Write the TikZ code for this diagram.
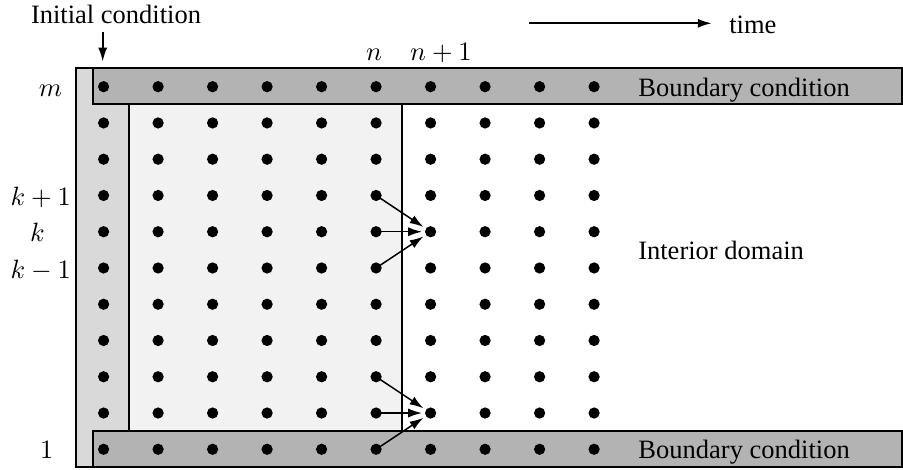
\RequirePackage{fix-cm}
\documentclass[tikz,border=0pt]{standalone}
\usepackage[no-math]{fontspec}
\setmainfont{Liberation Serif}
\usetikzlibrary{arrows.meta}
\definecolor{bandgray}{HTML}{B3B3B3}
\definecolor{stripgray}{HTML}{D9D9D9}
\definecolor{lightgray2}{HTML}{F2F2F2}
\tikzset{
  dot/.style={circle, fill=black, inner sep=0pt, outer sep=0pt, minimum size=4.5pt},
  lbl/.style={inner sep=0pt, outer sep=0pt, font=\fontsize{10.6}{12}\selectfont},
  box/.style={draw=black, line width=0.8pt},
  arr/.style={line width=0.6pt, -{Latex[length=5.5pt,width=3.6pt]}, shorten >=1.2pt},
  bigarr/.style={line width=0.7pt, -{Latex[length=5.5pt,width=3.6pt]}}
}
\begin{document}
\begin{tikzpicture}[x=0.4pt,y=-0.4pt]
\useasboundingbox (0,0) rectangle (903,470);
% regions
\fill[fill=stripgray] (76,68.3) rectangle (129.5,467.3);
\fill[fill=lightgray2] (129.5,104) rectangle (402,431);
\draw[box] (76,68.3) rectangle (129.5,467.3);
\draw[box] (129.5,104) rectangle (402,431);
\filldraw[box, fill=bandgray] (93.5,68.3) rectangle (902.5,104);
\filldraw[box, fill=bandgray] (93.5,431) rectangle (902.5,467.3);
% grid points
\foreach \i in {0,...,9}
  \foreach \j in {0,...,10}
    \node[dot] (d-\i-\j) at ({103.6+54.5*\i},{86.7+36.26*\j}) {};
% stencil arrows
\draw[arr] (d-5-3.center) -- (d-6-4);
\draw[arr] (d-5-4.center) -- (d-6-4);
\draw[arr] (d-5-5.center) -- (d-6-4);
\draw[arr] (d-5-8.center) -- (d-6-9);
\draw[arr] (d-5-9.center) -- (d-6-9);
\draw[arr] (d-5-10.center) -- (d-6-9);
% labels
\node[lbl, anchor=base west] (ic) at (31,24) {Initial condition};
\coordinate (ica) at (102.7,31.7);
\coordinate (icb) at (102.7,61.5);
\draw[bigarr] (ica) -- (icb);
\coordinate (ta) at (529.3,23.3);
\coordinate (tb) at (711.7,23.3);
\draw[bigarr] (ta) -- (tb);
\node[lbl, anchor=base west] (time) at (729.3,33.3) {time};
\node[lbl, anchor=base] (ln) at (374,61) {$n$};
\node[lbl, anchor=base] (lnp) at (441,61) {$n+1$};
\node[lbl, anchor=base] (lm) at (50.5,96.7) {$m$};
\node[lbl, anchor=base east] (lkp) at (71,205.7) {$k+1$};
\node[lbl, anchor=base] (lk) at (37.5,241.7) {$k$};
\node[lbl, anchor=base east] (lkm) at (71,278.3) {$k-1$};
\node[lbl, anchor=base] (l1) at (46.7,458.5) {$1$};
\node[lbl, anchor=base west] (bct) at (638.5,96.2) {Boundary condition};
\node[lbl, anchor=base west] (bcb) at (638.5,458.5) {Boundary condition};
\node[lbl, anchor=base west] (id) at (638.3,259.5) {Interior domain};
\end{tikzpicture}
\end{document}
